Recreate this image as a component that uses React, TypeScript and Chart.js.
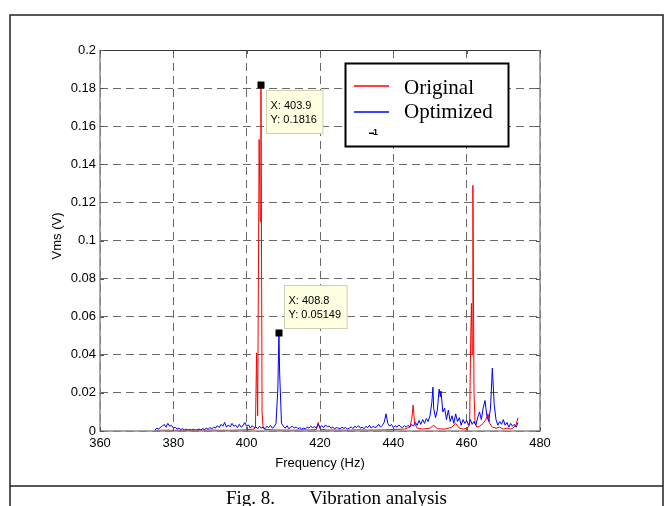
import React, { useEffect, useRef } from "react";
import { Chart, registerables } from "chart.js";

Chart.register(...registerables);

// ---------- data ----------
const xTickValues = [360, 380, 400, 420, 440, 460, 480];
const yTickValues = [0, 0.02, 0.04, 0.06, 0.08, 0.1, 0.12, 0.14, 0.16, 0.18, 0.2];

const seriesNames = ["Original", "Optimized"];
const seriesColors = ["#ff0000", "#0000ff"];

const originalFreq = [
  375, 377, 380, 383, 385, 388, 390, 393, 395, 398,
  400, 401, 402, 402.4, 402.7, 403.0, 403.4, 403.7, 403.9, 404.2,
  404.5, 405, 408, 410, 413, 415, 417, 419, 419.5, 420,
  422, 425, 428, 430, 433, 435, 438, 440, 443, 444.5,
  445.0, 445.4, 445.8, 446.5, 448, 450, 451, 452, 454, 456,
  457, 458, 459, 460, 460.8, 461.1, 461.3, 461.5, 461.7, 462.0,
  462.3, 462.8, 463.5, 464.5, 465.2, 465.8, 466.3, 467, 468, 469,
  470, 471, 472, 473, 473.5, 474,
];
const originalVrms = [
  0.0003, 0.0004, 0.0004, 0.0003, 0.0003, 0.0004, 0.0005, 0.0004, 0.0004, 0.0005,
  0.0006, 0.0008, 0.001, 0.002, 0.041, 0.008, 0.153, 0.11, 0.1816, 0.01,
  0.0015, 0.0008, 0.0005, 0.0005, 0.0004, 0.0006, 0.0005, 0.0008, 0.0045, 0.001,
  0.0005, 0.0005, 0.0004, 0.0006, 0.0005, 0.0005, 0.0006, 0.0008, 0.001, 0.002,
  0.006, 0.0136, 0.004, 0.0015, 0.001, 0.0015, 0.003, 0.0012, 0.001, 0.002,
  0.004, 0.0015, 0.001, 0.0015, 0.003, 0.048, 0.067, 0.04, 0.129, 0.02,
  0.004, 0.002, 0.0025, 0.004, 0.006, 0.009, 0.004, 0.002, 0.0015, 0.002,
  0.001, 0.0015, 0.001, 0.002, 0.0035, 0.007,
];

const optimizedFreq = [
  375.0, 375.5, 376.0, 376.5, 377.0, 377.5, 378.0, 378.5, 379.0, 379.5,
  380.0, 380.5, 381.0, 381.5, 382.0, 382.5, 383.0, 383.5, 384.0, 384.5,
  385.0, 385.5, 386.0, 386.5, 387.0, 387.5, 388.0, 388.5, 389.0, 389.5,
  390.0, 390.5, 391.0, 391.5, 392.0, 392.5, 393.0, 393.5, 394.0, 394.5,
  395.0, 395.5, 396.0, 396.5, 397.0, 397.5, 398.0, 398.5, 399.0, 399.5,
  400.0, 400.5, 401.0, 401.5, 402.0, 402.5, 403.0, 403.5, 404.0, 404.5,
  405.0, 405.5, 406.0, 406.5, 407.0, 407.5, 408.0, 408.5, 408.8, 409.0,
  409.5, 410.0, 410.5, 411.0, 411.5, 412.0, 412.5, 413.0, 413.5, 414.0,
  414.5, 415.0, 415.5, 416.0, 416.5, 417.0, 417.5, 418.0, 418.5, 419.0,
  419.5, 420.0, 420.5, 421.0, 421.5, 422.0, 422.5, 423.0, 423.5, 424.0,
  424.5, 425.0, 425.5, 426.0, 426.5, 427.0, 427.5, 428.0, 428.5, 429.0,
  429.5, 430.0, 430.5, 431.0, 431.5, 432.0, 432.5, 433.0, 433.5, 434.0,
  434.5, 435.0, 435.5, 436.0, 436.5, 437.0, 437.5, 438.0, 438.5, 439.0,
  439.5, 440.0, 440.5, 441.0, 441.5, 442.0, 442.5, 443.0, 443.5, 444.0,
  444.5, 445.0, 445.5, 446.0, 446.5, 447.0, 447.5, 448.0, 448.5, 449.0,
  449.5, 450.0, 450.5, 450.8, 451.0, 451.5, 452.0, 452.5, 452.8, 453.0,
  453.5, 454.0, 454.5, 455.0, 455.5, 456.0, 456.5, 457.0, 457.5, 458.0,
  458.5, 459.0, 459.5, 460.0, 460.5, 461.0, 461.5, 462.0, 462.5, 463.0,
  463.5, 464.0, 464.5, 465.0, 465.5, 466.0, 466.5, 467.0, 467.5, 468.0,
  468.5, 469.0, 469.5, 470.0, 470.5, 471.0, 471.5, 472.0, 472.5, 473.0,
  473.5, 474.0,
];
const optimizedVrms = [
  0.0005, 0.0015, 0.001, 0.002, 0.0025, 0.0035, 0.002, 0.004, 0.0025, 0.003,
  0.0015, 0.002, 0.001, 0.0015, 0.0008, 0.0012, 0.0006, 0.001, 0.0005, 0.0008,
  0.0006, 0.0009, 0.0005, 0.0007, 0.001, 0.0006, 0.0012, 0.0008, 0.0015, 0.001,
  0.0018, 0.0012, 0.002, 0.0015, 0.0028, 0.0018, 0.0035, 0.0025, 0.0045, 0.002,
  0.0032, 0.0022, 0.004, 0.0025, 0.003, 0.0018, 0.0035, 0.002, 0.0028, 0.0045,
  0.0025, 0.0032, 0.0015, 0.0028, 0.0018, 0.0022, 0.0012, 0.0025, 0.0015, 0.002,
  0.0012, 0.0025, 0.0018, 0.003, 0.0015, 0.0022, 0.004, 0.022, 0.05149, 0.03,
  0.004, 0.0025, 0.0015, 0.0028, 0.0012, 0.002, 0.0025, 0.0015, 0.0022, 0.0012,
  0.0018, 0.001, 0.0015, 0.0012, 0.002, 0.0015, 0.0025, 0.0018, 0.0022, 0.0015,
  0.0035, 0.002, 0.0028, 0.0018, 0.0032, 0.0022, 0.0026, 0.0015, 0.002, 0.0012,
  0.0018, 0.0015, 0.0012, 0.002, 0.0014, 0.0018, 0.001, 0.0015, 0.0022, 0.0012,
  0.0025, 0.0018, 0.0028, 0.0015, 0.002, 0.0012, 0.0024, 0.0018, 0.003, 0.0015,
  0.0025, 0.0018, 0.0022, 0.0035, 0.002, 0.003, 0.0045, 0.009, 0.004, 0.0025,
  0.0035, 0.0018, 0.0028, 0.002, 0.0032, 0.0022, 0.0018, 0.0028, 0.002, 0.003,
  0.0022, 0.0035, 0.0025, 0.0045, 0.003, 0.0055, 0.0035, 0.006, 0.004, 0.0065,
  0.005, 0.008, 0.015, 0.023, 0.012, 0.007, 0.011, 0.022, 0.018, 0.021,
  0.01, 0.012, 0.006, 0.011, 0.005, 0.008, 0.004, 0.009, 0.005, 0.007,
  0.003, 0.006, 0.004, 0.0055, 0.003, 0.006, 0.0035, 0.005, 0.003, 0.007,
  0.01, 0.006, 0.012, 0.016, 0.008, 0.005, 0.012, 0.033, 0.014, 0.006,
  0.003, 0.005, 0.0035, 0.006, 0.003, 0.0045, 0.002, 0.004, 0.0025, 0.0035,
  0.002, 0.0045,
];

// data tips (MATLAB datatips)
const tipFreq = [403.9, 408.8];
const tipVrms = [0.1816, 0.05149];
const tipVrmsText = ["0.1816", "0.05149"];
const tipFreqText = ["403.9", "408.8"];

const xTitle = "Frequency (Hz)";
const yTitle = "Vms (V)";
const captionLeft = "Fig. 8.";
const captionRight = "Vibration analysis";

const SANS = "'Liberation Sans', Arial, Helvetica, sans-serif";
const SERIF = "'Liberation Serif', 'Times New Roman', Times, serif";

const overlayPlugin = {
  id: "overlay",
  beforeDraw(chart: any) {
    const ctx = chart.ctx;
    ctx.save();
    ctx.fillStyle = "#ffffff";
    ctx.fillRect(0, 0, chart.width, chart.height);
    ctx.restore();
  },
  afterDraw(chart: any) {
    const ctx: CanvasRenderingContext2D = chart.ctx;
    const area = chart.chartArea;
    const xs = chart.scales.x;
    const ys = chart.scales.y;
    ctx.save();

    // axes box
    ctx.lineWidth = 1.5;
    ctx.strokeStyle = "#8a8a8a";
    ctx.beginPath();
    ctx.moveTo(area.left, area.top);
    ctx.lineTo(area.left, area.bottom);
    ctx.lineTo(area.right, area.bottom);
    ctx.lineTo(area.right, area.top);
    ctx.stroke();
    ctx.strokeStyle = "#333333";
    ctx.lineWidth = 1;
    ctx.beginPath();
    ctx.moveTo(area.left, area.top + 0.5);
    ctx.lineTo(area.right, area.top + 0.5);
    ctx.stroke();

    // small inward ticks
    ctx.strokeStyle = "#555555";
    ctx.lineWidth = 1;
    ctx.beginPath();
    xTickValues.forEach((v) => {
      const px = Math.round(xs.getPixelForValue(v)) + 0.5;
      ctx.moveTo(px, area.bottom);
      ctx.lineTo(px, area.bottom - 4);
      ctx.moveTo(px, area.top);
      ctx.lineTo(px, area.top + 4);
    });
    yTickValues.forEach((v) => {
      const py = Math.round(ys.getPixelForValue(v)) + 0.5;
      ctx.moveTo(area.left, py);
      ctx.lineTo(area.left + 4, py);
      ctx.moveTo(area.right, py);
      ctx.lineTo(area.right - 4, py);
    });
    ctx.stroke();

    // axis titles
    ctx.fillStyle = "#000000";
    ctx.font = `13px ${SANS}`;
    ctx.textAlign = "center";
    ctx.textBaseline = "alphabetic";
    ctx.fillText(xTitle, (area.left + area.right) / 2, 467);
    ctx.save();
    ctx.translate(57, 236);
    ctx.rotate(-Math.PI / 2);
    ctx.textBaseline = "middle";
    ctx.fillText(yTitle, 0, 0);
    ctx.restore();

    // legend box
    const lx = 345.5, ly = 63.5, lw = 163, lh = 83;
    ctx.fillStyle = "#ffffff";
    ctx.fillRect(lx, ly, lw, lh);
    ctx.strokeStyle = "#000000";
    ctx.lineWidth = 2;
    ctx.strokeRect(lx, ly, lw, lh);
    const rowY = [86, 112];
    const baseY = [94, 118];
    seriesNames.forEach((name, i) => {
      ctx.strokeStyle = seriesColors[i];
      ctx.lineWidth = 1.5;
      ctx.beginPath();
      ctx.moveTo(354, rowY[i]);
      ctx.lineTo(389, rowY[i]);
      ctx.stroke();
      ctx.fillStyle = "#000000";
      ctx.font = `21px ${SERIF}`;
      ctx.textAlign = "left";
      ctx.textBaseline = "alphabetic";
      ctx.fillText(name, 404, baseY[i]);
    });
    // small artifact glyph in legend
    ctx.fillStyle = "#000000";
    ctx.fillRect(369, 132.5, 5, 1.5);
    ctx.font = `bold 9px ${SANS}`;
    ctx.fillText("1", 373, 135);

    // data tips
    ctx.font = `11px ${SANS}`;
    tipFreq.forEach((f, i) => {
      const px = xs.getPixelForValue(f);
      const py = ys.getPixelForValue(tipVrms[i]);
      const l1 = `X: ${tipFreqText[i]}`;
      const l2 = `Y: ${tipVrmsText[i]}`;
      const w = Math.max(ctx.measureText(l1).width, ctx.measureText(l2).width) + 10;
      const h = 43;
      const bx = Math.round(px + 5) + 0.5;
      const by = i === 0 ? Math.round(py + 4.5) + 0.5 : Math.round(py - 5 - h) + 0.5;
      ctx.fillStyle = "#ffffe1";
      ctx.fillRect(bx, by, w, h);
      ctx.strokeStyle = "#cfcfb8";
      ctx.lineWidth = 1;
      ctx.strokeRect(bx, by, w, h);
      ctx.fillStyle = "#000000";
      ctx.textAlign = "left";
      ctx.textBaseline = "alphabetic";
      ctx.fillText(l1, bx + 4, by + 18);
      ctx.fillText(l2, bx + 4, by + 32);
      ctx.fillStyle = "#000000";
      ctx.fillRect(Math.round(px) - 3.5, Math.round(py) - 3.5, 7, 7);
    });

    // figure frame & caption
    ctx.strokeStyle = "#222222";
    ctx.lineWidth = 1.5;
    ctx.beginPath();
    ctx.moveTo(10, 520);
    ctx.lineTo(10, 15);
    ctx.lineTo(663, 15);
    ctx.lineTo(663, 520);
    ctx.moveTo(10, 486);
    ctx.lineTo(663, 486);
    ctx.stroke();

    ctx.fillStyle = "#000000";
    ctx.font = `19px ${SERIF}`;
    ctx.textBaseline = "alphabetic";
    ctx.textAlign = "left";
    ctx.fillText(captionLeft, 226, 504);
    ctx.textAlign = "right";
    ctx.fillText(captionRight, 447, 504);

    ctx.restore();
  },
};

export default function App() {
  const canvasRef = useRef<HTMLCanvasElement | null>(null);

  useEffect(() => {
    document.body.style.margin = "0";
    const canvas = canvasRef.current;
    if (!canvas) return;
    const chart = new Chart(canvas, {
      type: "line",
      data: {
        datasets: [
          {
            label: seriesNames[0],
            data: originalFreq.map((f, i) => ({ x: f, y: originalVrms[i] })),
            borderColor: seriesColors[0],
            borderWidth: 1,
            pointRadius: 0,
            tension: 0,
            fill: false,
            order: 1,
          },
          {
            label: seriesNames[1],
            data: optimizedFreq.map((f, i) => ({ x: f, y: optimizedVrms[i] })),
            borderColor: seriesColors[1],
            borderWidth: 1,
            pointRadius: 0,
            tension: 0,
            fill: false,
            order: 0,
          },
        ],
      },
      options: {
        responsive: false,
        animation: false,
        devicePixelRatio: 1,
        layout: { padding: { left: 0, top: 50, right: 129, bottom: 0 } },
        plugins: {
          legend: { display: false },
          tooltip: { enabled: false },
          title: { display: false },
        },
        events: [],
        scales: {
          x: {
            type: "linear",
            min: 360,
            max: 480,
            afterBuildTicks: (scale: any) => {
              scale.ticks = xTickValues.map((v) => ({ value: v }));
            },
            afterFit: (scale: any) => {
              scale.height = 75;
            },
            ticks: {
              color: "#000000",
              font: { family: SANS, size: 13 },
              padding: 5,
              maxRotation: 0,
              autoSkip: false,
              callback: (v: any) => String(v),
            },
            grid: {
              color: "#6a6a6a",
              lineWidth: 1,
              drawTicks: false,
            },
            border: { display: false, dash: [8, 5] },
          },
          y: {
            type: "linear",
            min: 0,
            max: 0.2,
            afterBuildTicks: (scale: any) => {
              scale.ticks = yTickValues.map((v) => ({ value: v }));
            },
            afterFit: (scale: any) => {
              scale.width = 100;
            },
            ticks: {
              color: "#000000",
              font: { family: SANS, size: 13 },
              padding: 4,
              autoSkip: false,
              callback: (v: any) => {
                const r = Math.round(Number(v) * 100) / 100;
                return r === 0 ? "0" : String(r);
              },
            },
            grid: {
              color: "#6a6a6a",
              lineWidth: 1,
              drawTicks: false,
            },
            border: { display: false, dash: [8, 5] },
          },
        },
      },
      plugins: [overlayPlugin],
    });
    return () => chart.destroy();
  }, []);

  return (
    <div style={{ position: "absolute", left: 0, top: 0, width: 669, height: 506 }}>
      <canvas ref={canvasRef} width={669} height={506} style={{ display: "block" }} />
    </div>
  );
}
